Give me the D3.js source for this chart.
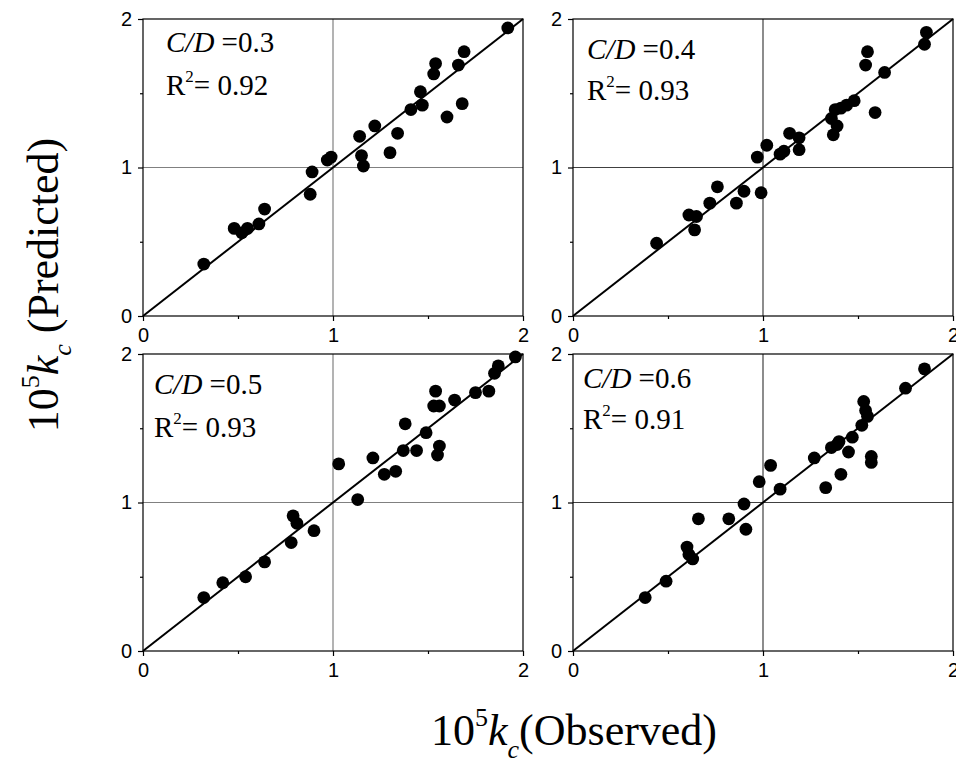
<!DOCTYPE html>
<html>
<head>
<meta charset="utf-8">
<script src="https://cdn.jsdelivr.net/npm/d3@7"></script>
<style>
  body { margin: 0; background: #fff; }
  .serif { font-family: "Times New Roman", "Liberation Serif", serif; fill: #000; }
</style>
</head>
<body>
<div class="js-container"></div>
<script>
;(function() {
  'use strict';

  // One value per C/D panel.
  var cdLabels = ['0.3', '0.4', '0.5', '0.6'];
  var r2Labels = ['0.92', '0.93', '0.93', '0.91'];

  var tickValues = [0, 1, 2];
  var minorTicks = [0.5, 1.5];

  // Observed / predicted 10^5 kc.
  var obs03 = [0.32, 0.48, 0.52, 0.55, 0.61, 0.64, 0.88, 0.89, 0.97, 0.99, 1.14, 1.15, 1.16,
               1.22, 1.30, 1.34, 1.41, 1.46, 1.47, 1.53, 1.54, 1.60, 1.66, 1.68, 1.69, 1.92];
  var pred03 = [0.35, 0.59, 0.56, 0.59, 0.62, 0.72, 0.82, 0.97, 1.05, 1.07, 1.21, 1.08, 1.01,
                1.28, 1.10, 1.23, 1.39, 1.51, 1.42, 1.63, 1.70, 1.34, 1.69, 1.43, 1.78, 1.94];

  var obs04 = [0.44, 0.61, 0.65, 0.64, 0.72, 0.76, 0.86, 0.90, 0.97, 0.99, 1.02, 1.09, 1.11, 1.14, 1.19,
               1.19, 1.36, 1.38, 1.39, 1.37, 1.41, 1.44, 1.48, 1.54, 1.55, 1.59, 1.64, 1.85, 1.86];
  var pred04 = [0.49, 0.68, 0.67, 0.58, 0.76, 0.87, 0.76, 0.84, 1.07, 0.83, 1.15, 1.09, 1.11, 1.23, 1.20,
                1.12, 1.33, 1.39, 1.28, 1.22, 1.40, 1.42, 1.45, 1.69, 1.78, 1.37, 1.64, 1.83, 1.91];

  var obs05 = [0.32, 0.42, 0.54, 0.64, 0.78, 0.79, 0.81, 0.90, 1.03, 1.13, 1.21, 1.27, 1.33, 1.37,
               1.38, 1.44, 1.49, 1.54, 1.53, 1.56, 1.56, 1.55, 1.64, 1.75, 1.82, 1.85, 1.87, 1.96];
  var pred05 = [0.36, 0.46, 0.50, 0.60, 0.73, 0.91, 0.86, 0.81, 1.26, 1.02, 1.30, 1.19, 1.21, 1.35,
                1.53, 1.35, 1.47, 1.75, 1.65, 1.65, 1.38, 1.32, 1.69, 1.74, 1.75, 1.87, 1.92, 1.98];

  var obs06 = [0.38, 0.49, 0.60, 0.61, 0.63, 0.66, 0.82, 0.90, 0.91, 0.98, 1.04, 1.09, 1.27, 1.33,
               1.36, 1.39, 1.40, 1.41, 1.45, 1.47, 1.52, 1.53, 1.54, 1.55, 1.57, 1.57, 1.75, 1.85];
  var pred06 = [0.36, 0.47, 0.70, 0.65, 0.62, 0.89, 0.89, 0.99, 0.82, 1.14, 1.25, 1.09, 1.30, 1.10,
                1.37, 1.39, 1.41, 1.19, 1.34, 1.44, 1.52, 1.68, 1.62, 1.58, 1.31, 1.27, 1.77, 1.90];

  var observed = [obs03, obs04, obs05, obs06];
  var predicted = [pred03, pred04, pred05, pred06];

  var windowW = 956;
  var windowH = 771;

  var panelW = 380;
  var panelH = 297;

  // Panel placement, label offsets and grid colour (layout only).
  var layout = [
    { x: 143, y: 19,  lx: 23, ly: 33, ry: 76, grid: '#808080' },
    { x: 573, y: 19,  lx: 14, ly: 40, ry: 81, grid: '#404040' },
    { x: 143, y: 354, lx: 11, ly: 40, ry: 83, grid: '#808080' },
    { x: 573, y: 354, lx: 10, ly: 34, ry: 75, grid: '#404040' }
  ];

  var svg = d3.select('.js-container').append('svg')
              .attr('width', windowW)
              .attr('height', windowH);

  svg.append('rect')
      .attr('width', windowW)
      .attr('height', windowH)
      .attr('fill', '#fff');

  var xScale = d3.scaleLinear().domain([0, 2]).range([0, panelW]);
  var yScale = d3.scaleLinear().domain([0, 2]).range([panelH, 0]);

  for (var n = 0; n < cdLabels.length; n++) {
    drawPanel(n);
  };

  drawTitles();

  /**
   * Draws one C/D panel: grid, frame, axes, 1:1 line, dots and labels.
   */
  function drawPanel(idx) {
    var pos = layout[idx];
    var g = svg.append('g')
                .attr('transform', 'translate(' + pos.x + ',' + pos.y + ')');

    // Grid lines at 1.
    g.append('line')
        .attr('x1', xScale(1)).attr('x2', xScale(1))
        .attr('y1', yScale(0)).attr('y2', yScale(2))
        .attr('stroke', pos.grid).attr('stroke-width', 1.2);
    g.append('line')
        .attr('x1', xScale(0)).attr('x2', xScale(2))
        .attr('y1', yScale(1)).attr('y2', yScale(1))
        .attr('stroke', pos.grid).attr('stroke-width', 1.2);

    // Axes, major then minor ticks.
    var xAxis = g.append('g')
        .attr('transform', 'translate(0,' + panelH + ')')
        .call(d3.axisBottom(xScale).tickValues(tickValues).tickSize(5).tickPadding(7)
              .tickFormat(d3.format('d')));
    var xMinor = g.append('g')
        .attr('transform', 'translate(0,' + panelH + ')')
        .call(d3.axisBottom(xScale).tickValues(minorTicks).tickSize(3).tickFormat(''));
    var yAxis = g.append('g')
        .call(d3.axisLeft(yScale).tickValues(tickValues).tickSize(5).tickPadding(6)
              .tickFormat(d3.format('d')));
    var yMinor = g.append('g')
        .call(d3.axisLeft(yScale).tickValues(minorTicks).tickSize(3).tickFormat(''));

    [xAxis, xMinor, yAxis, yMinor].forEach(function(a) {
      a.select('.domain').remove();
      a.attr('font-size', 20)
       .attr('font-family', 'Arial, "Liberation Sans", sans-serif');
      a.selectAll('.tick line').attr('stroke', '#000').attr('stroke-width', 1.2);
      a.selectAll('.tick text').attr('fill', '#000');
    });

    // Frame.
    g.append('rect')
        .attr('x', xScale(0)).attr('y', yScale(2))
        .attr('width', xScale(2) - xScale(0))
        .attr('height', yScale(0) - yScale(2))
        .attr('fill', 'none').attr('stroke', '#000').attr('stroke-width', 1.2);

    // 1:1 line.
    g.append('line')
        .attr('x1', xScale(0)).attr('y1', yScale(0))
        .attr('x2', xScale(2)).attr('y2', yScale(2))
        .attr('stroke', '#000').attr('stroke-width', 2);

    var pts = d3.zip(observed[idx], predicted[idx]);
    g.selectAll('circle')
        .data(pts)
        .enter().append('circle')
        .attr('cx', function(d) { return xScale(d[0]); })
        .attr('cy', function(d) { return yScale(d[1]); })
        .attr('r', 6.4)
        .attr('fill', '#000');

    // C/D label.
    var t1 = g.append('text')
        .classed('serif', true)
        .attr('x', pos.lx).attr('y', pos.ly)
        .attr('font-size', 29);
    t1.append('tspan').attr('font-style', 'italic').text('C/D');
    t1.append('tspan').text(' =' + cdLabels[idx]);

    // R^2 label.
    var t2 = g.append('text')
        .classed('serif', true)
        .attr('x', pos.lx).attr('y', pos.ry)
        .attr('font-size', 29);
    t2.append('tspan').text('R');
    t2.append('tspan').attr('font-size', 17).attr('dy', -13).text('2');
    t2.append('tspan').attr('dy', 13).text('= ' + r2Labels[idx]);
  };

  /**
   * Shared axis titles.
   */
  function drawTitles() {
    var xt = svg.append('text')
        .classed('serif', true)
        .attr('x', 574).attr('y', 745)
        .attr('text-anchor', 'middle')
        .attr('font-size', 44);
    xt.append('tspan').text('10');
    xt.append('tspan').attr('font-size', 26).attr('dy', -19).text('5');
    xt.append('tspan').attr('font-style', 'italic').attr('dy', 19).text('k');
    xt.append('tspan').attr('font-style', 'italic').attr('font-size', 26).attr('dy', 13).text('c');
    xt.append('tspan').attr('dy', -13).text('(Observed)');

    var yt = svg.append('text')
        .classed('serif', true)
        .attr('transform', 'translate(58,285) rotate(-90)')
        .attr('text-anchor', 'middle')
        .attr('font-size', 44);
    yt.append('tspan').text('10');
    yt.append('tspan').attr('font-size', 26).attr('dy', -19).text('5');
    yt.append('tspan').attr('font-style', 'italic').attr('dy', 19).text('k');
    yt.append('tspan').attr('font-style', 'italic').attr('font-size', 26).attr('dy', 13).text('c');
    yt.append('tspan').attr('dy', -13).text(' (Predicted)');
  };

}());
</script>
</body>
</html>
